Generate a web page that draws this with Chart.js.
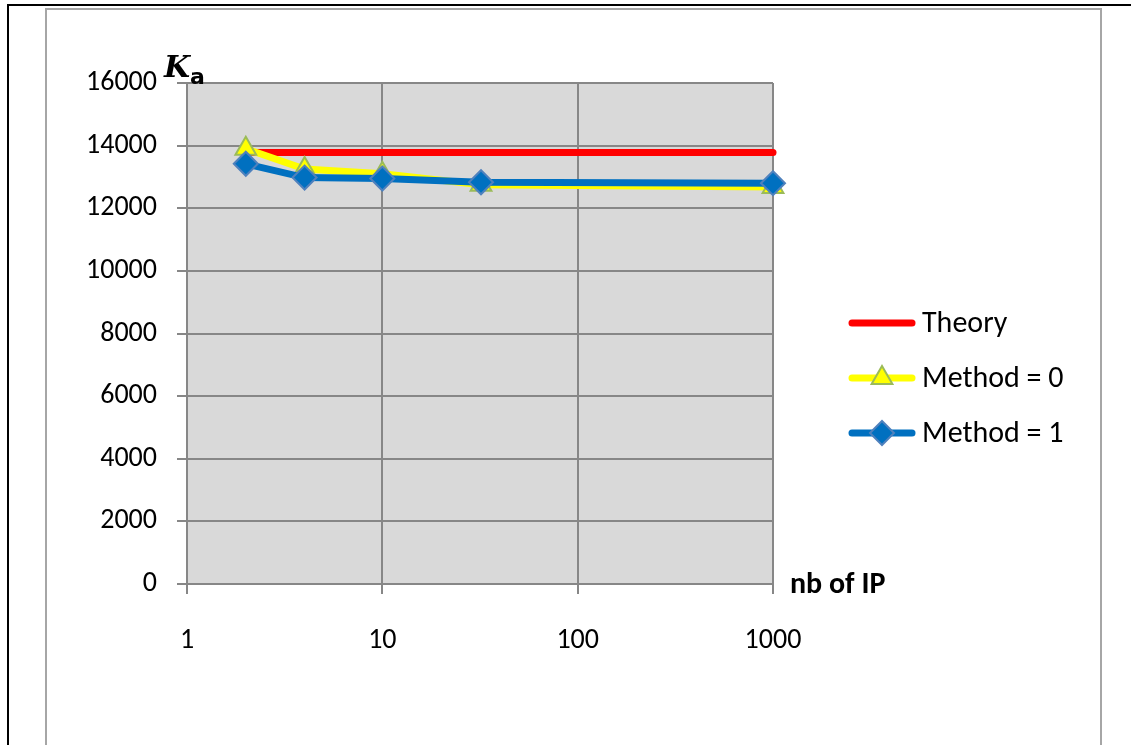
<!DOCTYPE html>
<html>
<head>
<meta charset="utf-8">
<script src="https://cdn.jsdelivr.net/npm/chart.js@4/dist/chart.umd.min.js"></script>
<style>
    html, body { margin: 0; padding: 0; background: #fff; }
    #wrap { position: relative; width: 1131px; height: 745px; overflow: hidden; }
    #frameOuter { position: absolute; left: 7px; top: 4px; right: -10px; bottom: -10px; border-top: 2px solid #000; border-left: 2px solid #000; }
    #frameInner { position: absolute; left: 45px; top: 8px; width: 1053px; bottom: -10px; border: 2px solid #a6a6a6; }
    canvas { position: absolute; left: 0; top: 0; }
</style>
</head>
<body>
<div id="wrap">
    <div id="frameOuter"></div>
    <div id="frameInner"></div>
    <canvas id="kaChart" width="1131" height="745"></canvas>
</div>
<script>
// nombre de points d'intégration
const nbIP = [2, 4, 10, 32, 1000];
const theorie = [13780, 13780, 13780, 13780, 13780];
const methode0 = [13900, 13250, 13100, 12750, 12680];
const methode1 = [13420, 12980, 12950, 12830, 12800];

const xTicks = [1, 10, 100, 1000];
const yTicks = [0, 2000, 4000, 6000, 8000, 10000, 12000, 14000, 16000];

const FONT = 'Carlito, Lato, sans-serif';
const GRID = '#878787';

const toPoints = vals => nbIP.map((x, i) => ({ x: x, y: vals[i] }));

// fond gris de la zone de tracé
const fondPlugin = {
    id: 'fond',
    beforeDraw(chart) {
        const a = chart.chartArea;
        const ctx = chart.ctx;
        ctx.save();
        ctx.fillStyle = '#d9d9d9';
        ctx.fillRect(a.left, a.top, a.right - a.left, a.bottom - a.top);
        ctx.restore();
    }
};

// titres des axes + légende dessinée à la main (trait + marqueur)
const annotPlugin = {
    id: 'annot',
    afterDraw(chart) {
        const ctx = chart.ctx;
        const a = chart.chartArea;
        ctx.save();

        // K_a en haut de l'axe Y
        ctx.fillStyle = '#000';
        ctx.textBaseline = 'alphabetic';
        ctx.font = 'italic bold 30px "DejaVu Serif", serif';
        ctx.fillText('K', a.left - 23, a.top - 6);
        ctx.font = 'bold 22px "DejaVu Sans", sans-serif';
        ctx.fillText('a', a.left + 3, a.top + 1);

        // titre axe X
        ctx.font = 'bold 30px ' + FONT;
        ctx.textBaseline = 'middle';
        ctx.fillText('nb of IP', a.right + 17, a.bottom + 1);

        // légende
        const lx0 = 852, lx1 = 912, tx = 922;
        const rows = [323, 378, 433];
        chart.data.datasets.forEach((ds, i) => {
            const y = rows[i];
            ctx.strokeStyle = ds.borderColor;
            ctx.lineWidth = ds.borderWidth;
            ctx.lineCap = 'round';
            ctx.beginPath();
            ctx.moveTo(lx0, y);
            ctx.lineTo(lx1, y);
            ctx.stroke();
            if (ds.pointRadius > 0) {
                ctx.fillStyle = ds.pointBackgroundColor;
                ctx.strokeStyle = ds.pointBorderColor;
                ctx.lineWidth = ds.pointBorderWidth;
                Chart.helpers.drawPoint(ctx, { pointStyle: ds.pointStyle, radius: ds.pointRadius, borderWidth: ds.pointBorderWidth, rotation: 0 }, (lx0 + lx1) / 2, y);
            }
            ctx.fillStyle = '#000';
            ctx.font = '30px ' + FONT;
            ctx.textBaseline = 'middle';
            ctx.fillText(ds.label, tx, y + 1);
        });
        ctx.restore();
    }
};

new Chart(document.getElementById('kaChart'), {
    type: 'line',
    data: {
        datasets: [
            {
                label: 'Theory',
                data: toPoints(theorie),
                borderColor: '#ff0000',
                borderWidth: 7,
                borderCapStyle: 'round',
                pointRadius: 0,
                order: 3,
                clip: false
            },
            {
                label: 'Method = 0',
                data: toPoints(methode0),
                borderColor: '#ffff00',
                borderWidth: 7,
                pointStyle: 'triangle',
                pointRadius: 12,
                pointBackgroundColor: '#ffff00',
                pointBorderColor: '#9bbb59',
                pointBorderWidth: 2,
                order: 2,
                clip: false
            },
            {
                label: 'Method = 1',
                data: toPoints(methode1),
                borderColor: '#0070c0',
                borderWidth: 7,
                pointStyle: 'rectRot',
                pointRadius: 12,
                pointBackgroundColor: '#0070c0',
                pointBorderColor: '#4f81bd',
                pointBorderWidth: 2,
                order: 1,
                clip: false
            }
        ]
    },
    options: {
        responsive: false,
        animation: false,
        devicePixelRatio: 1,
        layout: { padding: { left: 0, top: 83, right: 358, bottom: 0 } },
        plugins: {
            legend: { display: false },
            tooltip: { enabled: false }
        },
        scales: {
            x: {
                type: 'logarithmic',
                min: 1,
                max: 1000,
                afterBuildTicks: scale => { scale.ticks = xTicks.map(v => ({ value: v })); },
                afterFit: scale => { scale.height = 161; },
                grid: { color: GRID, lineWidth: 2, tickLength: 10 },
                border: { color: GRID, width: 2 },
                ticks: {
                    color: '#000',
                    font: { family: FONT, size: 28 },
                    padding: 30,
                    maxRotation: 0,
                    autoSkip: false,
                    callback: v => String(v)
                }
            },
            y: {
                min: 0,
                max: 16000,
                afterBuildTicks: scale => { scale.ticks = yTicks.map(v => ({ value: v })); },
                afterFit: scale => { scale.width = 187; },
                grid: { color: GRID, lineWidth: 2, tickLength: 10 },
                border: { color: GRID, width: 2 },
                ticks: {
                    color: '#000',
                    font: { family: FONT, size: 28 },
                    padding: 20,
                    callback: v => String(v)
                }
            }
        }
    },
    plugins: [fondPlugin, annotPlugin]
});
</script>
</body>
</html>
